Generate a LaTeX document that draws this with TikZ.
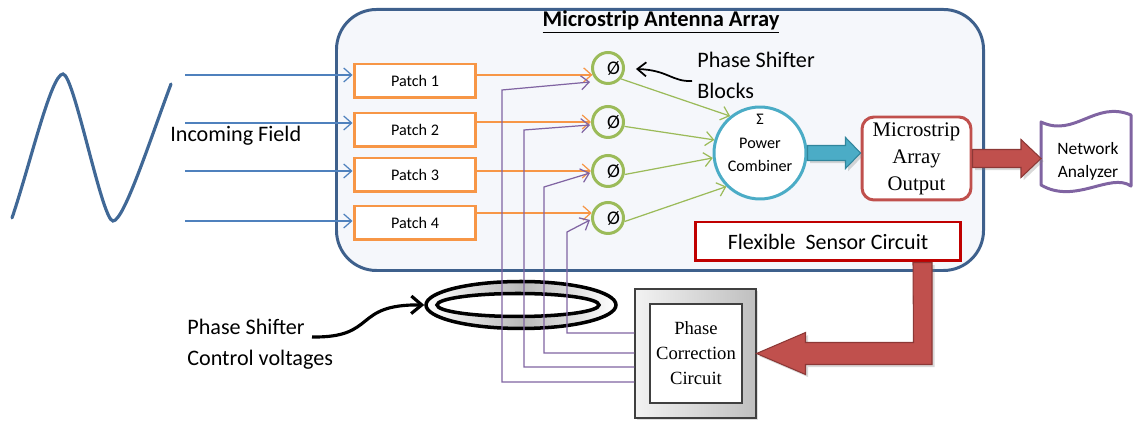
\documentclass[tikz,border=0pt]{standalone}
\usepackage{fontspec}
\setmainfont{Carlito}
\newfontfamily\serifface{Liberation Serif}
\usetikzlibrary{arrows.meta,calc,shapes.geometric,shadows}

\definecolor{frameblue}{RGB}{62,96,140}
\definecolor{panelbg}{RGB}{245,247,251}
\definecolor{waveblue}{RGB}{64,104,150}
\definecolor{feedblue}{RGB}{79,129,189}
\definecolor{patchorange}{RGB}{247,150,70}
\definecolor{shiftgreen}{RGB}{155,187,89}
\definecolor{ctrlpurple}{RGB}{128,100,162}
\definecolor{combteal}{RGB}{75,172,198}
\definecolor{combtealdark}{RGB}{49,133,156}
\definecolor{outred}{RGB}{192,80,77}
\definecolor{outreddark}{RGB}{140,56,54}
\definecolor{sensorred}{RGB}{192,0,0}

\begin{document}
\begin{tikzpicture}[x=0.02cm, y=-0.02cm,
  patchbox/.style={draw=patchorange, line width=1.7pt, fill=white, minimum width=2.44cm,
    minimum height=0.68cm, inner sep=0pt, font=\fontsize{9.2}{11}\selectfont},
  shifter/.style={circle, draw=shiftgreen, line width=1.7pt, minimum size=0.62cm, inner sep=0pt},
  feedline/.style={draw=feedblue, line width=0.7pt, -{Straight Barb[length=4.5pt,width=8pt]}},
  patchline/.style={feedline, draw=patchorange},
  sumline/.style={feedline, draw=shiftgreen},
  ctrlline/.style={feedline, draw=ctrlpurple},
  bigtext/.style={font=\fontsize{12.6}{17.8}\selectfont, inner sep=0pt, align=left},
  redblock/.style={fill=outred, draw=outreddark, line width=0.6pt, line join=miter,
    drop shadow={opacity=0.3, shadow xshift=1.5pt, shadow yshift=-1.5pt}},
  tealblock/.style={fill=combteal, draw=combtealdark, line width=0.6pt,
    drop shadow={opacity=0.3, shadow xshift=1.5pt, shadow yshift=-1.5pt}},
]
\useasboundingbox (0,0) rectangle (1133,421);

% incoming wave and its label
\draw[waveblue, line width=1.8pt, line cap=round]
  (12,218) .. controls (30,165) and (51,74) .. (63,74)
  .. controls (74,74) and (102,221) .. (113,221)
  .. controls (124,221) and (150,140) .. (171,84);
\node[bigtext, anchor=west] (inc) at (170,136) {Incoming Field};

% antenna array panel
\draw[frameblue, line width=1.7pt, fill=panelbg, rounded corners=0.8cm]
  (336.5,9.5) rectangle (983.5,270.5);
\node[font=\bfseries\fontsize{12.8}{14}\selectfont] (title) at (661,22)
  {\underline{Microstrip Antenna Array}};

% patches with their feeds
\foreach \i/\py in {1/81,2/130,3/175,4/223}
  \node[patchbox] (p\i) at (415,\py) {Patch \i};
\foreach \i/\ay in {1/75,2/123,3/171,4/221} {
  \coordinate (src\i) at (185,\ay);
  \draw[feedline] (src\i) -- (src\i -| p\i.west);
}

% phase shifters
\foreach \i/\cy in {1/68,2/122,3/171,4/218}
  \node[shifter, label={[font=\fontsize{11}{12}\selectfont, xshift=3.2pt]center:Ø}] (ph\i) at (608,\cy) {};

\draw[patchline] (p1.east |- ph1.204) -- (ph1.204);
\draw[patchline] (p2.east |- ph2.west) -- (ph2.west);
\draw[patchline] (p3.east |- ph3.west) -- (ph3.west);
\draw[patchline] (p4.east |- ph4.163) -- (ph4.163);

% power combiner
\node[circle, draw=combteal, line width=1.7pt, fill=white, minimum size=1.84cm, inner sep=0pt] (comb) at (760,153) {};
\node[font=\fontsize{9.2}{13.5}\selectfont, align=center, inner sep=0pt] (combtxt) at ($(comb.center)+(0,-10)$)
  {Σ\\Power\\Combiner};
\draw[sumline] (ph1.320) -- (comb.129);
\draw[sumline] (ph2.345) -- (comb.164);
\draw[sumline] (ph3.348) -- (comb.186);
\draw[sumline] (ph4.348) -- (comb.225);

% array output
\node[draw=outred, line width=1.7pt, rounded corners=0.24cm, fill=white, minimum width=2.18cm,
  minimum height=1.66cm, align=center, inner sep=0pt,
  font=\serifface\fontsize{11.8}{15.3}\selectfont] (mao) at (916.5,158.5) {Microstrip\\Array\\Output};

\coordinate (bt) at (mao.west |- comb.east);
\path[tealblock] ($(comb.east)+(0,-7.5)$) -- ($(bt)+(-15,-7.5)$) -- ++(0,-8) -- (bt)
  -- ++(-15,15.5) -- ++(0,-8) -- ($(comb.east)+(0,7.5)$) -- cycle;

% network analyzer
\draw[ctrlpurple, line width=1.7pt, fill=white, line join=round]
  (1041,122) .. controls (1075,138) and (1095,100) .. (1131,115) -- (1131,186)
  .. controls (1110,172) and (1075,205) .. (1041,185) -- cycle;
\coordinate (naw) at (1041,158.5);
\node[font=\fontsize{9.9}{13}\selectfont, align=center, inner sep=0pt] (na) at (1088,161.5) {Network\\Analyzer};
\path[redblock] ($(mao.east)+(0,-9)$) -- ($(naw)+(-20,-9)$) -- ++(0,-10) -- (naw)
  -- ++(-20,19) -- ++(0,-10) -- ($(mao.east)+(0,9)$) -- cycle;

% flexible sensor
\node[draw=sensorred, line width=1.7pt, fill=white, minimum width=5.32cm, minimum height=0.78cm,
  font=\fontsize{12.5}{14}\selectfont] (fsc) at (828,241.5) {Flexible\ \ Sensor Circuit};

% cable coil
\node[ellipse, draw=black, line width=2pt, minimum width=3.8cm, minimum height=0.94cm,
  left color=white, right color=white, middle color=gray!55, inner sep=0pt] (ring) at (521,305) {};
\node[ellipse, draw=black, line width=2pt, fill=white, minimum width=3.24cm, minimum height=0.46cm,
  inner sep=0pt] (core) at (518,305) {};

% phase correction circuit
\node[draw=black!75, line width=0.6pt, minimum width=2.42cm, minimum height=2.58cm,
  left color=gray!10, right color=gray!50, inner sep=0pt,
  drop shadow={opacity=0.25, shadow xshift=1.2pt, shadow yshift=-1.2pt}] (pc) at (695.5,353.5) {};
\node[draw=black!75, line width=0.6pt, fill=white, minimum width=1.84cm, minimum height=1.98cm,
  align=center, inner sep=0pt, font=\serifface\fontsize{10.6}{14.2}\selectfont] (pcc) at (696,353.5)
  {Phase\\Correction\\Circuit};

% control voltages to the shifters
\draw[ctrlline] ($(pc.west)+(0,28.5)$) -| (502,90) -- ($(ph1.center)+(-18,14)$);
\draw[ctrlline] ($(pc.west)+(0,13.5)$) -| (524,130) -- ($(ph2.center)+(-18,3)$);
\draw[ctrlline] ($(pc.west)+(0,-0.5)$) -| (544,187) -- ($(ph3.center)+(-18,2)$);
\draw[ctrlline] ($(pc.west)+(0,-20.5)$) -| (567,232) -- ($(ph4.center)+(-18,2)$);

% sensor feedback
\path[redblock] ($(fsc.south)+(85,0)$) -- ++(19,0) |- ($(pc.east)+(49,11)$) -- ++(0,10)
  -- (pc.east) -- ++(49,-21) -- ++(0,10) -- ++(108,0) -- cycle;

% annotations
\node[bigtext, anchor=west] (psb) at (697,75.5) {Phase Shifter\\Blocks};
\coordinate (psbtail) at (692,81);
\draw[line width=1pt, -{Straight Barb[length=5pt,width=8pt]}]
  (psbtail) .. controls (672,82) and (668,70) .. ($(ph1.east)+(11,1)$);

\node[bigtext, anchor=west] (psc) at (187,344) {Phase Shifter\\Control voltages};
\coordinate (psctail) at (312,337);
\draw[line width=1.8pt, -{Straight Barb[length=6pt,width=10pt]}]
  (psctail) .. controls (378,338) and (352,304) .. (ring.west);
\end{tikzpicture}
\end{document}
